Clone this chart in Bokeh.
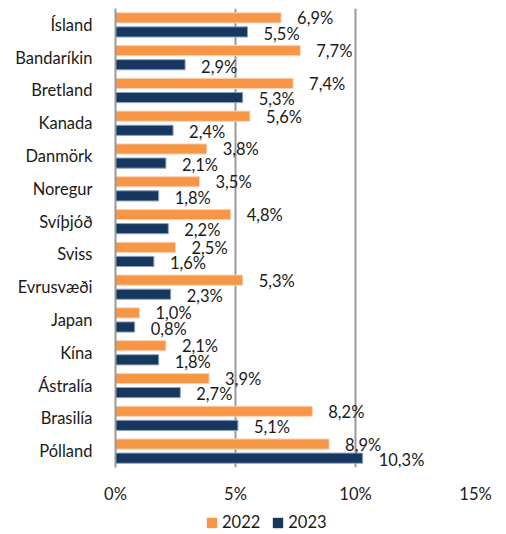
from bokeh.plotting import figure
from bokeh.models import FactorRange, Range1d, Legend, LegendItem, ColumnDataSource, FixedTicker, CustomJSTickFormatter
from bokeh.layouts import column
from bokeh.transform import dodge
from bokeh.embed import file_html
from bokeh.resources import INLINE
from bokeh.core.properties import value

countries = ["Ísland", "Bandaríkin", "Bretland", "Kanada", "Danmörk", "Noregur", "Svíþjóð",
             "Sviss", "Evrusvæði", "Japan", "Kína", "Ástralía", "Brasilía", "Pólland"]
v2022 = [6.9, 7.7, 7.4, 5.6, 3.8, 3.5, 4.8, 2.5, 5.3, 1.0, 2.1, 3.9, 8.2, 8.9]
v2023 = [5.5, 2.9, 5.3, 2.4, 2.1, 1.8, 2.2, 1.6, 2.3, 0.8, 1.8, 2.7, 5.1, 10.3]
series = ["2022", "2023"]
xticks = [0, 5, 10, 15]

def fmt(v):
    return ("%.1f" % v).replace(".", ",") + "%"

src = ColumnDataSource(dict(country=countries, v2022=v2022, v2023=v2023,
                            l2022=[fmt(v) for v in v2022], l2023=[fmt(v) for v in v2023]))

FONT = "Lato"
FS = "16.5px"
ORANGE = "#F79646"
NAVY = "#17375E"
p = figure(width=500, height=508, output_backend="svg", toolbar_location=None,
           y_range=FactorRange(factors=list(reversed(countries)), range_padding=0),
           x_range=Range1d(0, 15), min_border_left=115, min_border_right=25,
           min_border_top=8, min_border_bottom=41, outline_line_color=None)

p.hbar(y=dodge("country", 0.215, range=p.y_range), right="v2022", left=0, height=0.31,
       source=src, fill_color=ORANGE, line_color="#FAD3B5", line_width=1)
p.hbar(y=dodge("country", -0.215, range=p.y_range), right="v2023", left=0, height=0.31,
       source=src, fill_color=NAVY, line_color="#8FA3C0", line_width=1)

p.text(x="v2022", y=dodge("country", 0.2, range=p.y_range), text="l2022", source=src,
       x_offset=16, text_font=value(FONT), text_font_size=FS, text_color="#1a1a1a",
       text_baseline="middle", text_align="left")
p.text(x="v2023", y=dodge("country", -0.27, range=p.y_range), text="l2023", source=src,
       x_offset=16, text_font=value(FONT), text_font_size=FS, text_color="#1a1a1a",
       text_baseline="middle", text_align="left")

p.xaxis.ticker = FixedTicker(ticks=xticks)
p.xaxis.formatter = CustomJSTickFormatter(code="return tick + '%';")
p.xaxis.axis_line_color = None
p.xaxis.major_tick_line_color = None
p.xaxis.minor_tick_line_color = None
p.xaxis.major_label_standoff = 10
p.xaxis.major_label_text_font = FONT
p.xaxis.major_label_text_font_size = FS
p.xaxis.major_label_text_color = "#1a1a1a"

p.yaxis.axis_line_color = "#999999"
p.yaxis.axis_line_width = 2
p.yaxis.major_tick_line_color = None
p.yaxis.minor_tick_line_color = None
p.yaxis.major_label_standoff = 17
p.yaxis.major_label_text_font = FONT
p.yaxis.major_label_text_font_size = FS
p.yaxis.major_label_text_color = "#1a1a1a"

p.ygrid.grid_line_color = None
p.xgrid.grid_line_color = "#999999"
p.xgrid.grid_line_width = 2

# legend strip (swatch renderers sit outside the visible range)
lg = figure(width=500, height=26, output_backend="svg", toolbar_location=None,
            x_range=Range1d(0, 1), y_range=Range1d(0, 1), min_border=0,
            outline_line_color=None)
lg.axis.visible = False
lg.grid.visible = False
e1 = lg.hbar(y=[5], right=[6], left=[5], height=0.3, fill_color=ORANGE, line_color=None)
e2 = lg.hbar(y=[5], right=[6], left=[5], height=0.3, fill_color=NAVY, line_color=None)
legend = Legend(items=[LegendItem(label=series[0], renderers=[e1]),
                       LegendItem(label=series[1], renderers=[e2])],
                orientation="horizontal", location=(90, 2),
                label_text_font=FONT, label_text_font_size=FS, label_text_color="#1a1a1a",
                glyph_width=13, glyph_height=13, spacing=11, label_standoff=4,
                border_line_color=None, background_fill_alpha=0, padding=0, margin=0)
lg.add_layout(legend)

open("out.html", "w").write(file_html(column(p, lg, spacing=0), INLINE))
